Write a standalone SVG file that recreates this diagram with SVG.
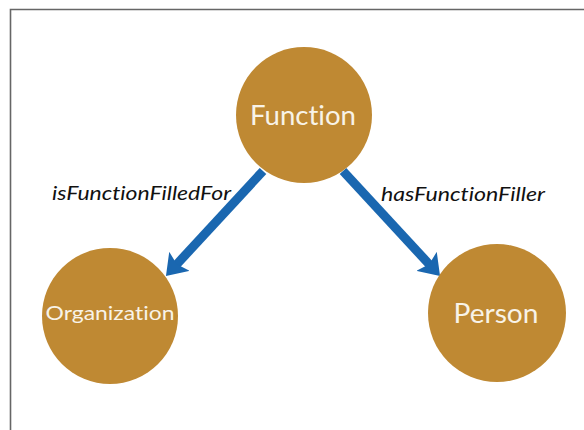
<svg xmlns="http://www.w3.org/2000/svg" width="584" height="430" viewBox="0 0 584 430">
  <style>
    text { font-variant-ligatures: none; font-feature-settings: "liga" 0, "clig" 0; }
    .node { fill: #bf8933; }
    .ntext { fill: #f8f3e8; font-family: Lato, "Open Sans", "Liberation Sans", sans-serif; text-anchor: middle; }
    .lbl { fill: #111; font-family: Lato, "Open Sans", "Liberation Sans", sans-serif; font-style: italic; font-size: 20px; }
    .edge { stroke: #1a67b0; stroke-width: 9; fill: none; marker-end: url(#head); }
  </style>
  <defs>
    <marker id="head" viewBox="0 0 20 28" markerWidth="20" markerHeight="28" refX="8" refY="14" orient="auto" markerUnits="userSpaceOnUse">
      <path d="M0,0 L20,14 L0,28 L4,14 z" fill="#1a67b0"/>
    </marker>
  </defs>
  <rect width="584" height="430" fill="#ffffff"/>
  <path d="M10.5,440 L10.5,9.5 L600,9.5" fill="none" stroke="#666" stroke-width="1.6"/>
  <g id="connectors">
    <line class="edge" x1="263" y1="171" x2="174.1" y2="267.2"/>
    <line class="edge" x1="343" y1="171" x2="431.9" y2="267.2"/>
    <text class="lbl" x="52" y="200" textLength="179" lengthAdjust="spacingAndGlyphs">isFunctionFilledFor</text>
    <text class="lbl" x="381" y="201" textLength="164" lengthAdjust="spacingAndGlyphs">hasFunctionFiller</text>
  </g>
  <g id="function">
    <circle class="node" cx="304" cy="115" r="68"/>
    <text class="ntext" x="303" y="125" font-size="26" textLength="106" lengthAdjust="spacingAndGlyphs">Function</text>
  </g>
  <g id="organization">
    <circle class="node" cx="110" cy="316" r="68"/>
    <text class="ntext" x="110" y="320" font-size="20" textLength="129" lengthAdjust="spacingAndGlyphs">Organization</text>
  </g>
  <g id="person">
    <circle class="node" cx="497" cy="313" r="69"/>
    <text class="ntext" x="496" y="323" font-size="27" textLength="85" lengthAdjust="spacingAndGlyphs">Person</text>
  </g>
</svg>
